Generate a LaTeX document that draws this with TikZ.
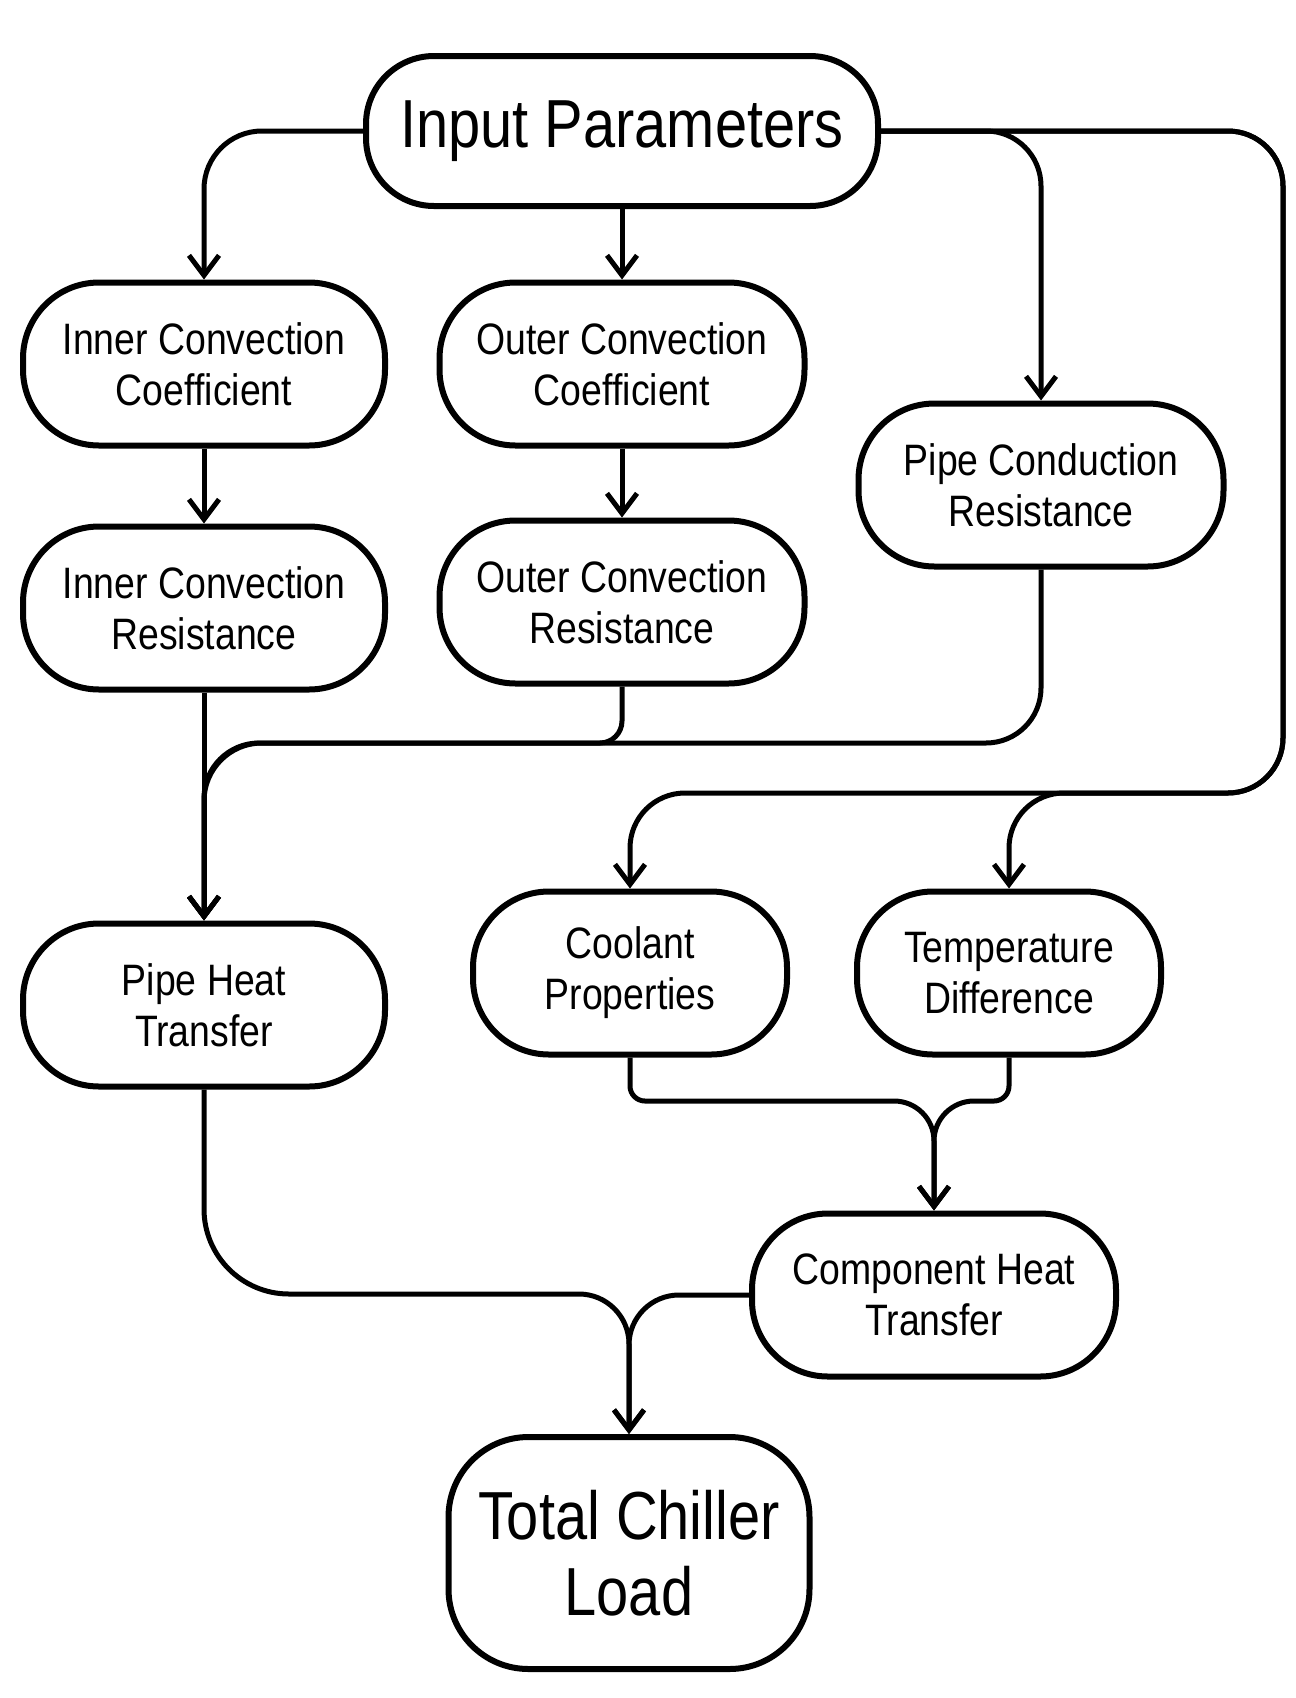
\documentclass[tikz,border=0pt]{standalone}
\usepackage{fontspec}
\setmainfont{Liberation Sans}[FakeStretch=0.85]
\usetikzlibrary{arrows.meta}
\begin{document}
\begin{tikzpicture}[x=1pt,y=-1pt,
  box/.style={draw, line width=6pt, rounded corners=76pt, minimum width=362pt, minimum height=163pt, align=center, inner sep=0pt, font=\fontsize{44}{51}\selectfont},
  bigbox/.style={box, font=\fontsize{68}{76}\selectfont},
  conn/.style={line width=5pt, -{Straight Barb[length=20pt,width=30pt]}}]
\useasboundingbox[fill=white] (0,0) rectangle (1296,1698);

\node[bigbox, minimum width=512pt, minimum height=150pt, rounded corners=68pt] (ip) at (622,131) {Input Parameters};
\node[box] (icc) at (204,364) {Inner Convection\\Coefficient};
\node[box, minimum width=365pt] (occ) at (622,364) {Outer Convection\\Coefficient};
\node[box, minimum width=365pt] (pcr) at (1041,485) {Pipe Conduction\\Resistance};
\node[box] (icr) at (204,608) {Inner Convection\\Resistance};
\node[box, minimum width=365pt] (ocr) at (622,602) {Outer Convection\\Resistance};
\node[box] (pht) at (204,1005) {Pipe Heat\\Transfer};
\node[box, minimum width=314pt] (cp) at (630,973) {Coolant\\Properties};
\node[box, minimum width=304pt] (td) at (1009,973) {Temperature\\Difference};
\node[box, minimum width=364pt] (cht) at (934,1295) {Component Heat\\Transfer};
\node[bigbox, minimum width=361pt, minimum height=232pt, rounded corners=80pt] (tcl) at (629,1553) {Total Chiller\\Load};

\coordinate (jA) at (204,743);
\coordinate (rt) at (1283,131);
\coordinate (rb) at (1283,793);
\coordinate (jB) at (934,1101);
\coordinate (jC) at (629,1294);

\draw[conn, rounded corners=58pt] (ip.west) -| (icc.north);
\draw[conn] (ip.south) -- (occ.north);
\draw[conn, rounded corners=55pt] (ip.east) -| (pcr.north);
\draw[conn, rounded corners=55pt] (ip.east) -- (rt) -- (rb) -| (cp.north);
\draw[conn, rounded corners=55pt] (ip.east) -- (rt) -- (rb) -| (td.north);

\draw[conn] (icc.south) -- (icr.north);
\draw[conn] (occ.south) -- (ocr.north);
\draw[conn] (icr.south) -- (pht.north);
\draw[conn] (ocr.south) [rounded corners=22pt] -- (ocr.south |- jA) [rounded corners=58pt] -- (jA) -- (pht.north);
\draw[conn, rounded corners=55pt] (pcr.south) |- (jA) -- (pht.north);

\draw[conn] (cp.south) [rounded corners=15pt] -- (cp.south |- jB) [rounded corners=40pt] -- (jB) -- (cht.north);
\draw[conn] (td.south) [rounded corners=15pt] -- (td.south |- jB) [rounded corners=40pt] -- (jB) -- (cht.north);

\draw[conn] (pht.south) [rounded corners=85pt] -- (pht.south |- jC) [rounded corners=50pt] -- (jC) -- (tcl.north);
\draw[conn, rounded corners=50pt] (cht.west) -| (tcl.north);
\end{tikzpicture}
\end{document}
